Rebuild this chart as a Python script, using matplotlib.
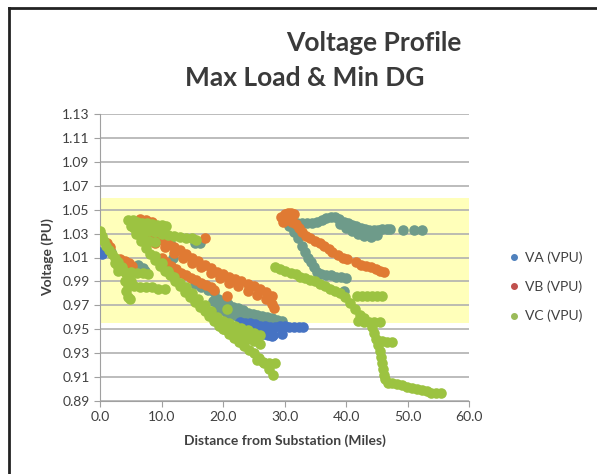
import matplotlib.pyplot as plt
from matplotlib.lines import Line2D

plt.rcParams['font.family'] = ['Lato', 'DejaVu Sans']

# (distance in miles, voltage in PU)
va_pts = [
    (0.0, 1.015), (0.3, 1.013),
    (22.8, 0.956), (23.6, 0.955), (24.4, 0.955), (25.2, 0.954), (26.0, 0.953),
    (26.8, 0.953), (27.6, 0.952), (28.4, 0.952), (29.2, 0.953), (30.0, 0.953),
    (30.8, 0.952), (31.6, 0.952), (32.4, 0.952), (33.0, 0.952),
    (24.5, 0.951), (25.3, 0.949), (26.0, 0.948), (26.7, 0.946), (27.3, 0.945),
    (27.9, 0.944), (28.2, 0.945), (26.5, 0.950), (27.8, 0.948), (29.6, 0.946),
]

vb_pts = [
    (1.1, 1.022), (1.6, 1.019), (3.3, 1.009), (4.0, 1.007), (4.7, 1.005),
    (5.2, 1.003), (3.8, 1.004),
    (6.5, 1.042), (7.5, 1.041), (8.5, 1.040),
    (8.0, 1.029), (9.0, 1.027), (10.0, 1.025), (11.0, 1.022), (12.0, 1.019),
    (13.0, 1.016), (14.0, 1.013), (15.0, 1.010), (16.0, 1.007), (17.0, 1.004),
    (18.0, 1.001), (19.0, 0.998), (20.0, 0.996), (21.0, 0.994), (22.0, 0.992),
    (23.0, 0.990), (24.0, 0.988), (25.0, 0.986), (26.0, 0.984), (27.0, 0.981),
    (28.0, 0.978),
    (9.0, 1.022), (10.5, 1.019), (12.0, 1.014), (13.5, 1.010), (15.0, 1.005),
    (16.5, 1.002), (18.0, 0.997), (19.5, 0.993), (21.0, 0.989), (22.5, 0.986),
    (24.0, 0.982), (25.5, 0.979), (27.0, 0.975), (28.0, 0.971), (28.3, 0.968),
    (17.0, 1.026),
    (10.0, 1.010), (10.8, 1.006), (11.6, 1.003), (12.4, 1.000), (13.2, 0.997),
    (14.0, 0.995), (14.8, 0.993), (15.6, 0.991), (16.4, 0.989), (17.2, 0.987),
    (18.0, 0.985), (18.6, 0.983), (20.6, 0.978),
    (29.5, 1.044), (30.0, 1.046), (30.5, 1.047), (31.0, 1.047), (31.5, 1.046),
    (29.8, 1.040), (30.5, 1.041), (31.2, 1.040), (31.8, 1.038), (32.3, 1.035),
    (32.8, 1.031), (33.5, 1.028), (34.2, 1.026), (35.0, 1.024), (35.8, 1.022),
    (36.5, 1.020), (37.2, 1.017), (37.7, 1.015),
    (38.7, 1.012), (39.5, 1.010), (40.2, 1.009),
    (41.6, 1.006), (42.4, 1.004), (43.2, 1.003), (44.0, 1.002), (44.8, 1.000),
    (45.6, 0.999), (46.2, 0.998),
]

vc_pts = [
    (0.0, 1.032), (0.3, 1.028), (0.6, 1.024), (1.0, 1.020), (1.5, 1.016),
    (2.0, 1.013), (2.5, 1.010), (3.0, 1.006), (3.5, 1.002), (4.0, 0.998),
    (4.5, 0.994), (5.0, 0.990), (2.5, 1.005), (3.0, 1.002),
    (3.0, 0.999), (4.0, 0.998), (5.0, 0.998), (6.0, 0.997), (7.0, 0.997),
    (7.8, 0.996),
    (4.5, 0.987), (5.5, 0.986), (6.5, 0.985), (7.5, 0.985), (8.5, 0.985),
    (9.5, 0.984), (10.5, 0.984),
    (4.0, 0.990), (4.3, 0.982), (4.5, 0.977), (4.8, 0.975),
    (4.6, 1.041), (5.3, 1.041), (6.0, 1.040), (6.8, 1.039), (7.6, 1.039),
    (8.4, 1.038), (9.2, 1.037), (10.0, 1.037), (10.8, 1.036),
    (6.2, 1.035), (7.0, 1.034), (8.0, 1.032), (9.0, 1.031), (10.0, 1.030),
    (11.0, 1.029), (12.0, 1.028), (13.0, 1.027), (14.0, 1.026), (15.0, 1.026),
    (15.6, 1.025),
    (5.5, 1.035), (6.2, 1.030), (7.0, 1.026), (8.0, 1.024), (9.0, 1.023),
    (5.0, 1.036), (5.8, 1.030), (6.6, 1.024), (7.4, 1.018), (8.2, 1.013),
    (9.0, 1.008), (9.8, 1.003), (10.6, 0.999), (11.4, 0.995), (12.2, 0.990),
    (13.0, 0.986), (13.8, 0.981), (14.6, 0.977), (15.4, 0.973), (16.2, 0.969),
    (17.0, 0.965), (17.8, 0.961), (18.6, 0.957), (19.4, 0.953), (20.2, 0.950),
    (21.0, 0.946), (21.8, 0.943), (22.6, 0.939), (23.4, 0.936), (24.2, 0.933),
    (25.0, 0.930), (25.8, 0.926), (26.6, 0.922), (27.4, 0.917), (28.2, 0.912),
    (9.0, 1.011), (10.0, 1.005), (11.0, 0.999), (12.0, 0.994), (13.0, 0.989),
    (14.0, 0.985), (15.0, 0.980), (16.0, 0.975), (17.0, 0.970), (18.0, 0.965),
    (19.0, 0.960), (20.0, 0.957), (21.0, 0.955), (22.0, 0.953),
    (23.0, 0.951), (24.0, 0.949), (25.0, 0.947), (26.0, 0.945),
    (20.0, 0.950), (21.0, 0.948), (22.0, 0.946), (23.0, 0.944), (24.0, 0.942),
    (25.0, 0.940), (26.0, 0.938),
    (25.5, 0.924), (26.5, 0.923), (27.5, 0.922), (28.5, 0.922),
    (20.6, 0.967),
    (28.5, 1.002), (29.3, 1.000), (30.1, 0.999), (31.0, 0.997), (31.8, 0.996),
    (32.6, 0.994), (33.4, 0.993), (34.2, 0.991), (35.0, 0.990), (35.8, 0.988),
    (36.6, 0.986), (37.4, 0.984), (38.2, 0.982), (39.0, 0.980), (39.8, 0.977),
    (40.6, 0.972), (41.4, 0.967), (42.2, 0.962), (43.0, 0.959), (43.8, 0.956),
    (41.8, 0.978), (42.6, 0.978), (43.4, 0.978), (44.2, 0.978), (45.0, 0.978),
    (45.8, 0.978),
    (42.0, 0.957), (43.0, 0.956), (44.5, 0.956), (45.5, 0.956),
    (44.3, 0.952), (44.6, 0.947), (44.9, 0.942), (45.2, 0.937), (45.5, 0.932),
    (45.7, 0.927), (45.9, 0.922), (46.0, 0.917), (46.2, 0.912), (46.4, 0.908),
    (46.8, 0.905),
    (45.8, 0.940), (46.6, 0.939), (47.4, 0.939),
    (47.5, 0.905), (48.3, 0.904), (49.1, 0.903), (49.9, 0.902), (50.7, 0.901),
    (51.5, 0.900), (52.3, 0.899), (53.1, 0.898), (53.9, 0.897), (54.7, 0.897),
    (55.4, 0.897),
]

# points where VA and VC sit on top of each other (drawn in the blended teal)
vac_pts = [
    (1.8, 1.015), (6.2, 1.004), (7.0, 1.001), (7.3, 0.999),
    (15.5, 1.022), (16.2, 1.022), (11.4, 1.022), (11.9, 1.010),
    (15.5, 0.988), (16.5, 0.985), (17.5, 0.983), (18.5, 0.981),
    (18.4, 0.974), (19.2, 0.975), (20.0, 0.973), (20.8, 0.971), (21.6, 0.969),
    (22.4, 0.968), (23.2, 0.966), (24.0, 0.964), (24.8, 0.963), (25.6, 0.962),
    (26.4, 0.961), (27.2, 0.960), (28.0, 0.959), (28.8, 0.958), (29.6, 0.957),
    (19.0, 0.968), (19.8, 0.966), (20.6, 0.964), (21.4, 0.962), (22.2, 0.961),
    (23.0, 0.960), (23.8, 0.959), (24.6, 0.958), (25.4, 0.957), (26.2, 0.957),
    (27.0, 0.956),
    (30.5, 1.040), (31.3, 1.039), (32.1, 1.039), (32.9, 1.039), (33.7, 1.039),
    (34.5, 1.039), (35.3, 1.040), (36.1, 1.041), (36.8, 1.043), (37.5, 1.044),
    (38.2, 1.044), (38.9, 1.042), (39.6, 1.040), (40.3, 1.039), (41.0, 1.037),
    (41.7, 1.036), (42.4, 1.035), (43.1, 1.034), (43.8, 1.033), (44.5, 1.033),
    (45.2, 1.033), (45.9, 1.034), (46.6, 1.034), (47.2, 1.034),
    (39.0, 1.038), (40.0, 1.035), (41.0, 1.032), (42.0, 1.030), (43.0, 1.028),
    (44.0, 1.027), (45.0, 1.029),
    (49.3, 1.033), (51.1, 1.033), (52.4, 1.033),
    (30.8, 1.036), (31.5, 1.031), (32.2, 1.026), (32.8, 1.020), (33.3, 1.015),
    (33.8, 1.010), (34.3, 1.006), (34.8, 1.002), (35.3, 0.998), (36.0, 0.996),
    (36.8, 0.995), (37.6, 0.995), (38.4, 0.994), (39.2, 0.994), (40.0, 0.993),
    (39.6, 0.982),
]

series_names = ['VA (VPU)', 'VB (VPU)', 'VC (VPU)']
y_ticks = [0.89, 0.91, 0.93, 0.95, 0.97, 0.99, 1.01, 1.03, 1.05, 1.07, 1.09, 1.11, 1.13]
x_ticks = [0, 10, 20, 30, 40, 50, 60]
band_low, band_high = 0.955, 1.06

fig = plt.figure(figsize=(5.97, 4.74), dpi=100)
ax = fig.add_axes([100 / 597, 1 - 401 / 474, 369 / 597, 287 / 474])

ax.axhspan(band_low, band_high, color='#FFFFBA', zorder=0.2, lw=0)
ax.set_axisbelow(True)
ax.grid(axis='y', color='#B0B0B0', lw=1.2)

text_c = '#404040'
ms = 58
for pts, c in [(vac_pts, '#6E9B8A'), (va_pts, '#4673C3'),
               (vb_pts, '#E07A33'), (vc_pts, '#9CC341')]:
    xs, ys = zip(*pts)
    ax.scatter(xs, ys, s=ms, color=c, lw=0, zorder=3)

ax.set_xlim(0, 60)
ax.set_ylim(0.89, 1.13)
ax.set_xticks(x_ticks)
ax.set_xticklabels([f'{v:.1f}' for v in x_ticks])
ax.set_yticks(y_ticks)
ax.set_yticklabels([f'{v:.2f}' for v in y_ticks])
ax.tick_params(colors='#A0A0A0', labelcolor=text_c, labelsize=10, length=4)
for side in ['top', 'right']:
    ax.spines[side].set_visible(False)
for side in ['left', 'bottom']:
    ax.spines[side].set_color('#A0A0A0')

ax.set_xlabel('Distance from Substation (Miles)', fontsize=10, fontweight='bold',
              color=text_c, labelpad=8)
ax.set_ylabel('Voltage (PU)', fontsize=10, fontweight='bold', color=text_c, labelpad=6)

fig.text(374 / 597, 1 - 51 / 474, 'Voltage Profile', fontsize=19, fontweight='bold',
         color='#3A3A3A', ha='center', va='baseline')
fig.text(305 / 597, 1 - 86 / 474, 'Max Load & Min DG', fontsize=19, fontweight='bold',
         color='#3A3A3A', ha='center', va='baseline')

handles = [Line2D([], [], ls='', marker='o', ms=4, color=c)
           for c in ['#4F81BD', '#C0504D', '#9BBB59']]
fig.legend(handles, series_names, loc='center left',
           bbox_to_anchor=(503 / 597, 1 - 287 / 474), frameon=False,
           fontsize=10, labelcolor=text_c, handlelength=0.6, handletextpad=0.5,
           labelspacing=1.2, borderpad=0)

# outer frame of the original screenshot (top and left edges)
fig.add_artist(Line2D([9 / 597, 1], [1 - 8 / 474] * 2, color='#222222', lw=2))
fig.add_artist(Line2D([9 / 597] * 2, [0, 1 - 8 / 474], color='#222222', lw=2))

fig.savefig('out.png', dpi=100)
